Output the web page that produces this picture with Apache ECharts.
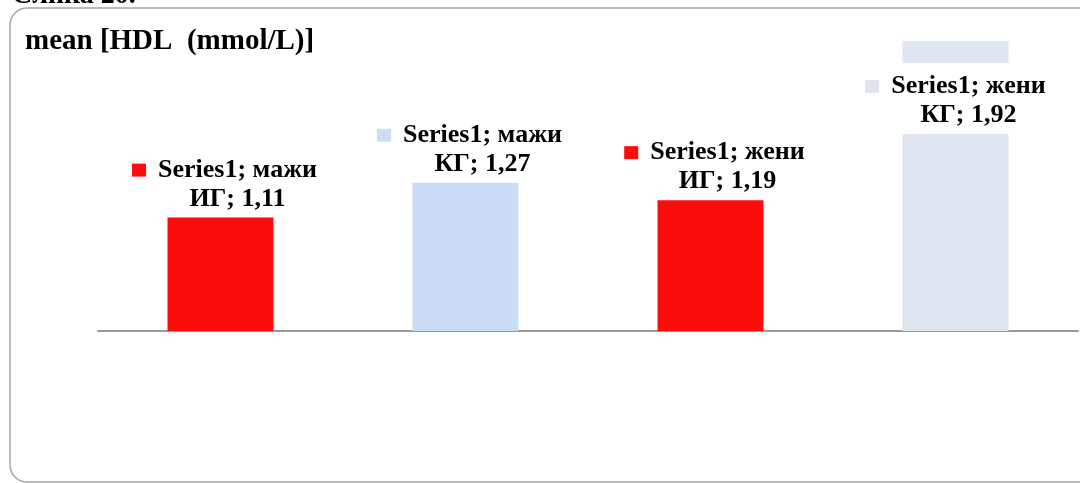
<!DOCTYPE html>
<html>
<head>
<meta charset="utf-8">
<script src="https://cdn.jsdelivr.net/npm/echarts@6/dist/echarts.min.js"></script>
<style>
  html, body { margin: 0; padding: 0; background: #ffffff; }
  #chart { width: 1080px; height: 483px; }
</style>
</head>
<body>
<div id="chart"></div>
<script>
// Mean HDL by group (men / women, intervention / control)
const seriesName = 'Series1';
const groups = ['мажи', 'мажи', 'жени', 'жени'];
const subgroups = ['ИГ', 'КГ', 'ИГ', 'КГ'];
const values = [1.11, 1.27, 1.19, 1.92];
const barColors = ['#fd0c0c', '#cbddf5', '#fd0c0c', '#dee5ee'];

const categories = groups.map((g, i) => g + ' ' + subgroups[i]);
const fmt = v => v.toFixed(2).replace('.', ',');
const FONT = '"Liberation Serif", "Times New Roman", serif';

const rich = {
  t: { fontFamily: FONT, fontWeight: 'bold', fontSize: 26, color: '#000', lineHeight: 29 },
  g: { width: 12 },
  s: { width: 26 }
};
barColors.forEach((c, i) => {
  rich['k' + i] = { width: 14, height: 13, backgroundColor: c };
});

const labelFormatter = p => {
  const i = p.dataIndex;
  return '{k' + i + '|}{g|}{t|' + seriesName + '; ' + groups[i] + '}\n' +
         '{s|}{t|' + subgroups[i] + '; ' + fmt(values[i]) + '}';
};

const data = values.map((v, i) => {
  const item = { value: v, itemStyle: { color: barColors[i] } };
  if (i === 3) {
    // tallest bar: label sits inside its top, on a white box
    item.label = {
      position: 'insideTop',
      distance: 22,
      offset: [0, 0],
      backgroundColor: '#ffffff',
      padding: [9, 8, 4, 8]
    };
  }
  return item;
});

const chart = echarts.init(document.getElementById('chart'), null, { renderer: 'canvas' });
chart.setOption({
  animation: false,
  backgroundColor: '#ffffff',
  title: {
    text: 'mean [HDL  (mmol/L)]',
    left: 25,
    top: 27,
    padding: 0,
    textStyle: { fontFamily: FONT, fontWeight: 'bold', fontSize: 29, color: '#000' }
  },
  graphic: [
    {
      type: 'rect',
      shape: { x: 10, y: 8, width: 1085, height: 474, r: 17 },
      style: { fill: null, stroke: '#a6a6a6', lineWidth: 1.5 },
      z: -1
    },
    {
      type: 'text',
      x: 12,
      y: 10,
      style: {
        text: 'Слика 20.',
        font: 'bold 28px "Liberation Serif", serif',
        fill: '#000',
        verticalAlign: 'bottom'
      }
    }
  ],
  grid: { left: 98, right: 2, top: 41, bottom: 152, containLabel: false },
  xAxis: {
    type: 'category',
    data: categories,
    axisLine: { show: true, lineStyle: { color: '#9a9a9a', width: 2 } },
    axisTick: { show: false },
    axisLabel: { show: false }
  },
  yAxis: {
    type: 'value',
    min: 0.59,
    max: 1.92,
    show: false,
    splitLine: { show: false }
  },
  series: [{
    name: seriesName,
    type: 'bar',
    barWidth: 106,
    data: data,
    label: {
      show: true,
      position: 'top',
      distance: 4,
      offset: [4, 0],
      formatter: labelFormatter,
      rich: rich
    }
  }]
});
</script>
</body>
</html>
